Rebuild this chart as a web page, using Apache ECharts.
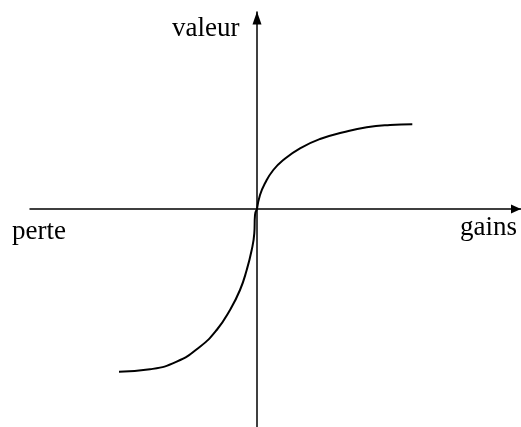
<!DOCTYPE html>
<html style="height: 100%">
<head>
<meta charset="utf-8">
<script src="https://cdn.jsdelivr.net/npm/echarts@6/dist/echarts.min.js"></script>
</head>
<body style="height: 100%; margin: 0; background: #fff">
<div id="container" style="width: 521px; height: 427px"></div>
<script type="text/javascript">
// courbe de valeur : côté gains et côté pertes
var gainsX = [0, 3, 8, 16.3, 26.3, 43, 63, 86.3, 109.7, 133, 155.3];
var gainsY = [0, 14, 25.7, 39, 49, 60.7, 70, 76.7, 81.7, 84, 84.7];
var perteX = [0, -2, -2.7, -5.3, -10.3, -17, -27, -40.3, -57, -80.3, -107, -138];
var perteY = [0, -6, -24.3, -41, -61, -81, -101, -121, -137.7, -152.7, -160.3, -162.7];

var dom = document.getElementById("container");
var myChart = echarts.init(dom);

function toPairs(xs, ys) {
	var arr = [];
	for (var i = 0; i < xs.length; i++) {
		arr.push([xs[i], ys[i]]);
	}
	return arr;
}

var labelFont = '27px "Liberation Serif", "Times New Roman", serif';

var option = {
	animation: false,
	grid: { left: 30, right: 0, top: 12, bottom: 0 },
	xAxis: {
		type: 'value',
		min: -227,
		max: 264,
		axisLine: {
			onZero: true,
			symbol: ['none', 'triangle'],
			symbolSize: [9, 10],
			symbolOffset: [0, -5],
			lineStyle: { color: '#000', width: 1.5 }
		},
		axisTick: { show: false },
		axisLabel: { show: false },
		splitLine: { show: false }
	},
	yAxis: {
		type: 'value',
		min: -218,
		max: 197,
		axisLine: {
			onZero: true,
			symbol: ['none', 'triangle'],
			symbolSize: [9, 13],
			symbolOffset: [0, -6],
			lineStyle: { color: '#000', width: 1.5 }
		},
		axisTick: { show: false },
		axisLabel: { show: false },
		splitLine: { show: false }
	},
	graphic: [
		{ type: 'text', left: 172, top: 15, style: { text: 'valeur', font: labelFont, fill: '#000' } },
		{ type: 'text', left: 460, top: 214, style: { text: 'gains', font: labelFont, fill: '#000' } },
		{ type: 'text', left: 12, top: 218, style: { text: 'perte', font: labelFont, fill: '#000' } }
	],
	series: [
		{
			name: 'gains',
			type: 'line',
			smooth: 0.5,
			showSymbol: false,
			lineStyle: { color: '#000', width: 2 },
			data: toPairs(gainsX, gainsY)
		},
		{
			name: 'perte',
			type: 'line',
			smooth: 0.5,
			showSymbol: false,
			lineStyle: { color: '#000', width: 2 },
			data: toPairs(perteX, perteY)
		}
	]
};

myChart.setOption(option, true);
</script>
</body>
</html>
